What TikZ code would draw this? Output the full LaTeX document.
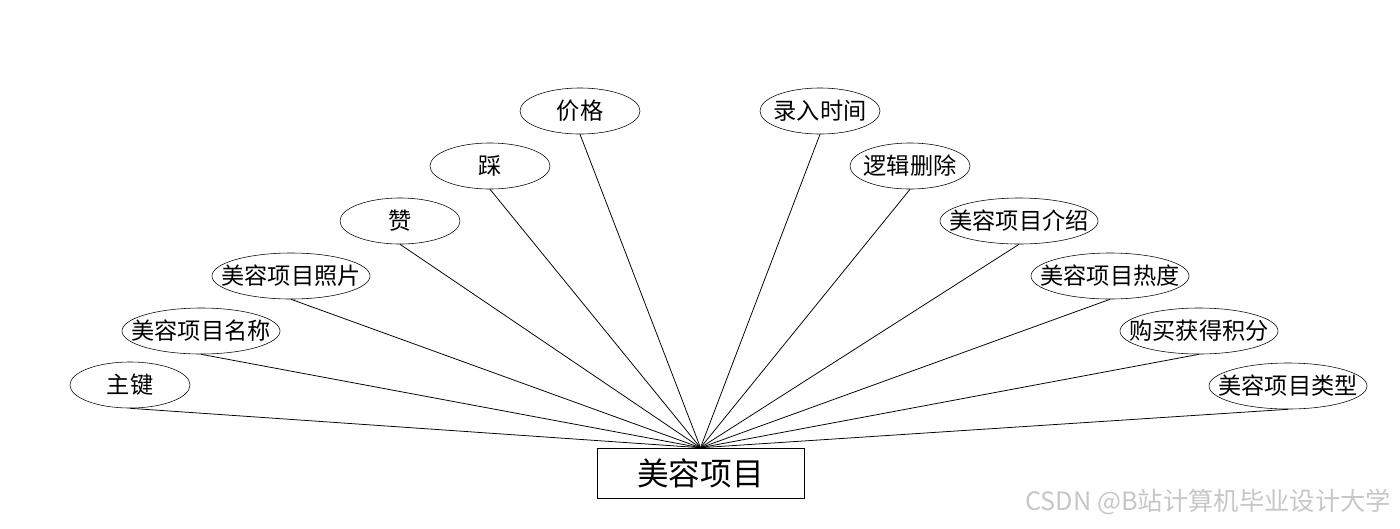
\documentclass[tikz,border=0pt]{standalone}
\usepackage{fontspec}
\setmainfont{Noto Sans CJK SC}
\newcommand{\fixtext}[1]{\makebox[0pt]{#1}}
\tikzset{
  attr/.style={draw, ellipse, minimum width=3cm, minimum height=1.15cm, inner sep=0pt, font=\fontsize{16.5}{16.5}\selectfont},
  wattr/.style={attr, minimum width=3.95cm},
  entity/.style={draw, rectangle, minimum width=5.175cm, minimum height=1.25cm, inner sep=0pt, font=\fontsize{22.5}{22.5}\selectfont},
  link/.style={line width=0.55pt}
}
\usetikzlibrary{shapes.geometric}
\begin{document}
\begin{tikzpicture}[x=0.025cm,y=-0.025cm]
\useasboundingbox (0,0) rectangle (1400,528);

\node[entity] (item) at (700.5,473) {美容项目};

% left side
\node[attr] (key) at (130,385) {\fixtext{主键}};
\node[wattr] (name) at (201,331) {\fixtext{美容项目名称}};
\node[wattr] (photo) at (291,276) {\fixtext{美容项目照片}};
\node[attr] (like) at (400,221) {\fixtext{赞}};
\node[attr] (dislike) at (490,166) {\fixtext{踩}};
\node[attr] (price) at (580,111) {\fixtext{价格}};

% right side
\node[attr] (time) at (820,111) {\fixtext{录入时间}};
\node[attr] (deleted) at (910,166) {\fixtext{逻辑删除}};
\node[wattr] (intro) at (1019,221) {\fixtext{美容项目介绍}};
\node[wattr] (heat) at (1110,276) {\fixtext{美容项目热度}};
\node[wattr] (points) at (1199,331) {\fixtext{购买获得积分}};
\node[wattr] (type) at (1288,386) {\fixtext{美容项目类型}};

\foreach \a in {key,name,photo,like,dislike,price,time,deleted,intro,heat,points,type}
  \draw[link] (\a.south) -- (item.north);

\node[anchor=east, text=black!22, font=\fontsize{18}{18}\selectfont] (mark) at (1396,502) {CSDN @B站计算机毕业设计大学};
\end{tikzpicture}
\end{document}
